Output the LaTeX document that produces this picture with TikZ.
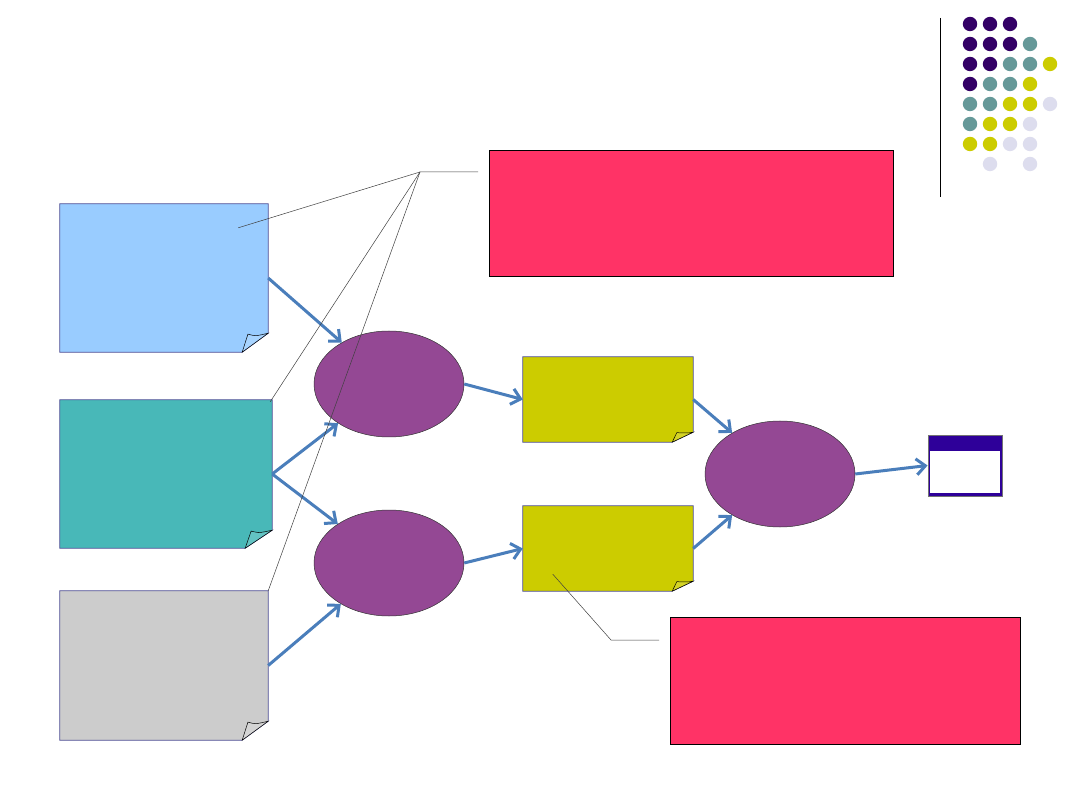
\documentclass[tikz,border=0pt]{standalone}
\usetikzlibrary{arrows.meta,shapes.geometric}
\definecolor{noteblue}{HTML}{99CCFF}
\definecolor{noteteal}{HTML}{48B8B8}
\definecolor{notegray}{HTML}{CCCCCC}
\definecolor{noteyellow}{HTML}{CCCC00}
\definecolor{ovalpurple}{HTML}{944894}
\definecolor{boxpink}{HTML}{FF3366}
\definecolor{flowblue}{HTML}{4A7EBB}
\definecolor{winblue}{HTML}{2E0099}
\definecolor{dotP}{HTML}{330066}
\definecolor{dotT}{HTML}{669999}
\definecolor{dotY}{HTML}{CCCC00}
\definecolor{dotL}{HTML}{DDDDEE}
\definecolor{dotN}{HTML}{FFFFFF}
\tikzset{
  notebox/.style={draw=none,fill=none,inner sep=0pt},
  oval/.style={ellipse,draw=black!80,line width=0.5pt,fill=ovalpurple,minimum width=150pt,minimum height=106pt,inner sep=0pt},
  pinkbox/.style={rectangle,draw=black,line width=0.8pt,fill=boxpink,inner sep=0pt},
  flow/.style={line width=3pt,color=flowblue,-{Straight Barb[length=9pt,width=16pt]}},
  callout/.style={line width=0.5pt,color=black!75},
  dot/.style={radius=7.2pt}
}
% #1 node name, #2 colour, #3 fold width, #4 fold height
\newcommand\foldnote[4]{%
  \path[fill=#2,draw=black!30!blue!40!gray,line width=0.7pt]
    (#1.north west) -- (#1.north east) -- ([yshift=#4 pt]#1.south east)
    -- ([xshift=-#3 pt]#1.south east) -- (#1.south west) -- cycle;
  \path[fill=#2!85!white,draw=black,line width=0.5pt]
    ([xshift=-#3 pt]#1.south east) -- ([xshift=-0.78*#3 pt,yshift=0.95*#4 pt]#1.south east)
    .. controls ([xshift=-0.5*#3 pt,yshift=0.85*#4 pt]#1.south east) .. ([xshift=-0.25*#3 pt,yshift=0.92*#4 pt]#1.south east)
    -- ([yshift=#4 pt]#1.south east) -- cycle;
}
\begin{document}
\begin{tikzpicture}[x=1pt,y=-1pt]
\useasboundingbox[fill=white] (0,0) rectangle (1080,810);

% dot grid
\foreach \r/\row in {0/{P,P,P},1/{P,P,P,T},2/{P,P,T,T,Y},3/{P,T,T,Y},4/{T,T,Y,Y,L},5/{T,Y,Y,L},6/{Y,Y,L,L},7/{N,L,N,L}}{
  \foreach \c [count=\i from 0] in \row {
    \fill[color=dot\c] (970+20*\i,24+20*\r) circle[dot];
  }
}
\draw[line width=1pt] (940,18) -- (940,197);

% notes
\node[notebox,minimum width=208pt,minimum height=148pt] (blue) at (164,278) {};
\node[notebox,minimum width=212pt,minimum height=148pt] (teal) at (166,474) {};
\node[notebox,minimum width=208pt,minimum height=149pt] (gray) at (164,665.5) {};
\node[notebox,minimum width=170pt,minimum height=85pt] (y1) at (608,399.5) {};
\node[notebox,minimum width=170pt,minimum height=85pt] (y2) at (608,548.5) {};
\foldnote{blue}{noteblue}{26}{19}
\foldnote{teal}{noteteal}{27}{18}
\foldnote{gray}{notegray}{26}{19}
\foldnote{y1}{noteyellow}{21}{10}
\foldnote{y2}{noteyellow}{21}{10}

% ovals
\node[oval] (e1) at (389,384) {};
\node[oval] (e2) at (389,563) {};
\node[oval] (e3) at (780,474) {};

% pink boxes
\node[pinkbox,minimum width=404pt,minimum height=126pt] (p1) at (691,213) {};
\node[pinkbox,minimum width=350pt,minimum height=127pt] (p2) at (845,680.5) {};

% window
\node[rectangle,draw=black!55,line width=0.8pt,fill=winblue,minimum width=74pt,minimum height=61pt,inner sep=0pt] (win) at (965,465.5) {};
\fill[white] ([xshift=2pt,yshift=-16pt]win.north west) rectangle ([xshift=-2pt,yshift=3pt]win.south east);

% flow arrows
\draw[flow] (blue.east) -- (e1);
\draw[flow] (teal.east) -- (e1);
\draw[flow] (teal.east) -- (e2);
\draw[flow] (gray.east) -- (e2);
\draw[flow] (e1.east) -- (y1.west);
\draw[flow] (e2.east) -- (y2.west);
\draw[flow] (y1.east) -- (e3);
\draw[flow] (y2.east) -- (e3);
\draw[flow] (e3.east) -- (win.west);

% callouts
\coordinate (apex) at (420,172);
\coordinate (apexend) at (478,172);
\coordinate (cb) at ([xshift=-30pt,yshift=-24pt]blue.north east);
\coordinate (ct) at ([xshift=-2pt,yshift=-2pt]teal.north east);
\coordinate (cg) at (gray.north east);
\draw[callout] (apexend) -- (apex) -- (cb);
\draw[callout] (apex) -- (ct);
\draw[callout] (apex) -- (cg);
\coordinate (cy) at ([xshift=30pt,yshift=17pt]y2.south west);
\coordinate (elbow) at (611,640);
\coordinate (elbowend) at (659,640);
\draw[callout] (cy) -- (elbow) -- (elbowend);
\end{tikzpicture}
\end{document}
